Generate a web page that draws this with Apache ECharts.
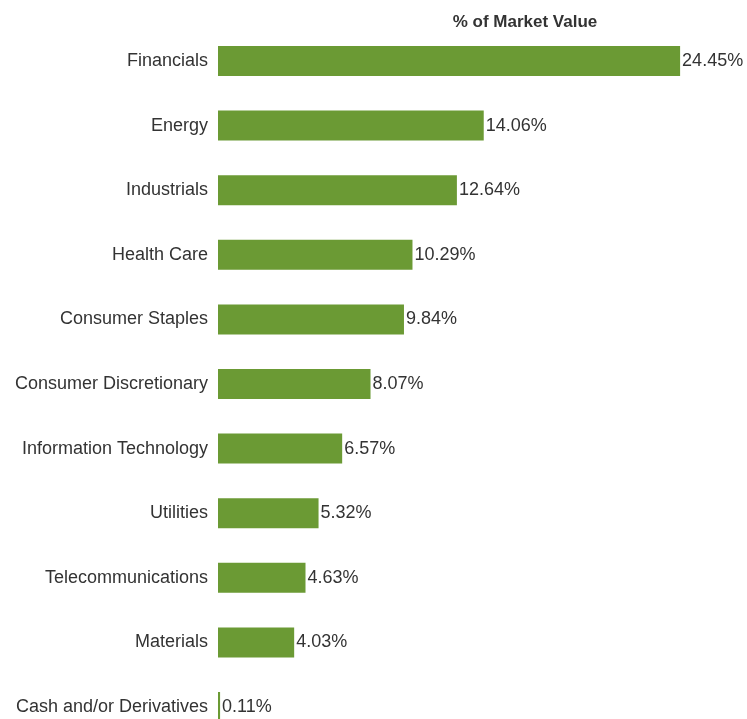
<!DOCTYPE html>
<html>
<head>
<meta charset="utf-8">
<script src="https://cdn.jsdelivr.net/npm/echarts@6/dist/echarts.min.js"></script>
<style>
  html, body { margin: 0; padding: 0; background: #fff; }
  #chart { width: 747px; height: 719px; }
</style>
</head>
<body>
<div id="chart"></div>
<script>
// Sector weights, listed top to bottom
const sectors = [
  'Financials', 'Energy', 'Industrials', 'Health Care', 'Consumer Staples',
  'Consumer Discretionary', 'Information Technology', 'Utilities',
  'Telecommunications', 'Materials', 'Cash and/or Derivatives'
];
const weights = [24.45, 14.06, 12.64, 10.29, 9.84, 8.07, 6.57, 5.32, 4.63, 4.03, 0.11];
const seriesName = '% of Market Value';

const FONT = 'Liberation Sans, Arial, sans-serif';

const chart = echarts.init(document.getElementById('chart'));
chart.setOption({
  backgroundColor: '#ffffff',
  animation: false,
  textStyle: { fontFamily: FONT },
  title: {
    text: seriesName,
    left: 520,
    top: 9,
    textAlign: 'center',
    textStyle: { fontSize: 17, fontWeight: 'bold', color: '#333', fontFamily: FONT }
  },
  // rows sit on the ticks: first row at the top edge, last row at the bottom edge
  grid: { left: 218, right: 56.5, top: 61, bottom: 12, containLabel: false },
  xAxis: {
    type: 'value', min: 0, max: 25,
    show: false
  },
  yAxis: {
    type: 'category',
    inverse: true,
    boundaryGap: false,
    data: sectors,
    axisLine: { show: false },
    axisTick: { show: false },
    splitLine: { show: false },
    axisLabel: { color: '#333', fontSize: 18, margin: 10, fontFamily: FONT }
  },
  series: [{
    type: 'bar',
    name: seriesName,
    data: weights,
    barWidth: 30,
    clip: false,
    itemStyle: { color: '#6b9a34' },
    label: {
      show: true,
      position: 'right',
      distance: 2,
      color: '#333',
      fontSize: 18,
      fontFamily: FONT,
      formatter: p => p.value.toFixed(2) + '%'
    }
  }]
});
</script>
</body>
</html>
